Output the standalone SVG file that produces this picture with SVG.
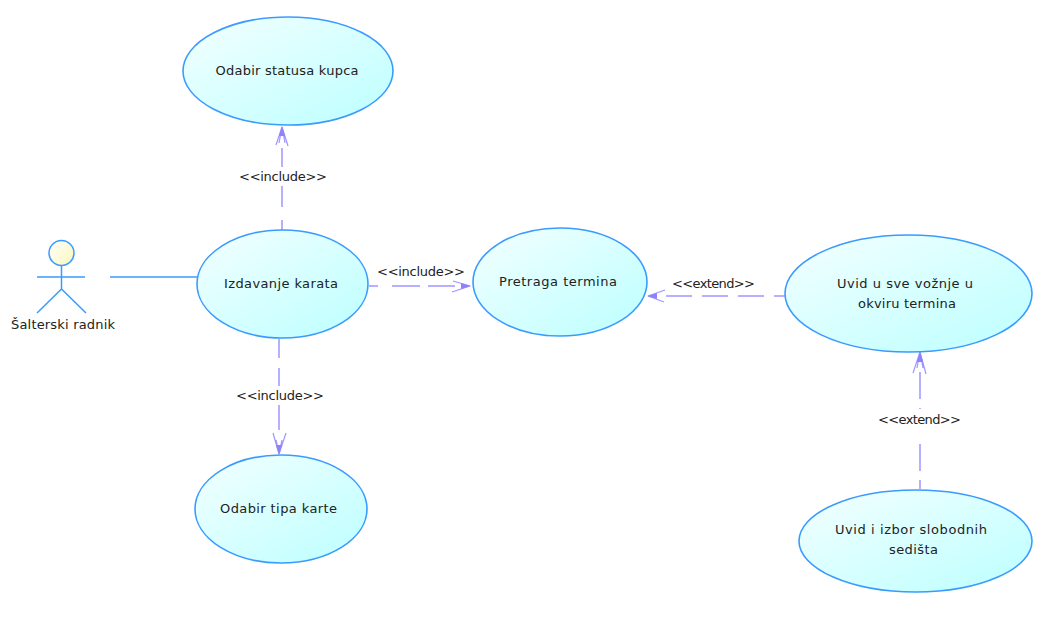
<svg xmlns="http://www.w3.org/2000/svg" width="1046" height="629" viewBox="0 0 1046 629">
<style>
.uc{stroke:#3a9bff;stroke-width:1.6;fill:url(#g)}
.t{font-family:"DejaVu Sans",sans-serif;font-size:13px;fill:#222;text-anchor:middle}
.dep{stroke:#a095ff;stroke-width:1.5;fill:none}
.head{stroke:#a095ff;stroke-width:1.2;fill:none}
.wedge{fill:#8f80ff;stroke:none}
.act{stroke:#3a9bff;stroke-width:1.5;fill:none}
</style>
<defs>
<linearGradient id="g" x1="0" y1="0" x2="1" y2="1"><stop offset="0" stop-color="#f4ffff"/><stop offset="1" stop-color="#bcffff"/></linearGradient>
<linearGradient id="y" x1="0" y1="0" x2="1" y2="1"><stop offset="0" stop-color="#ffffff"/><stop offset="1" stop-color="#fbf8b8"/></linearGradient>
</defs>
<rect width="1046" height="629" fill="#fff"/>
<g id="connectors">
<path class="act" d="M110 277H198"/>
<path class="dep" d="M282 230V220M282 207V186M282 167V148"/>
<path class="dep" d="M369 286H378M392 286H420M428 286H455"/>
<path class="dep" d="M279 339V358M279 368V386M279 405V430"/>
<path class="dep" d="M785 296H774M764 296H738M728 296H702M692 296H666"/>
<path class="dep" d="M920 489V480M920 471V444M920 409V408M920 399V372"/>
<path class="head" d="M282 127L276 145M282 127L288 146M282 127L279 143M282 127L285 143"/>
<path class="wedge" d="M282 126L285 136H279Z"/>
<path class="head" d="M470 286L453 281M470 286L452 292"/>
<path class="wedge" d="M471 286L461 283V289Z"/>
<path class="head" d="M279 454L273 433M279 454L286 433M279 454L276 440M279 454L282 440"/>
<path class="wedge" d="M279 455L282 445H276Z"/>
<path class="head" d="M648 296L665 290M648 296L664 302"/>
<path class="wedge" d="M647 296L657 293V299Z"/>
<path class="head" d="M920 352L913 373M920 352L926 374M920 352L917 368M920 352L923 368"/>
<path class="wedge" d="M920 351L923 362H917Z"/>
</g>
<g id="actor">
<circle cx="61.5" cy="253" r="12.5" class="act" style="fill:url(#y)"/>
<path class="act" d="M61.5 265.500V289M37 277H85M61.500 289L37 313M61.500 289L86 313"/>
<text class="t" x="63" y="329" textLength="104">Šalterski radnik</text>
</g>
<g id="uc1"><ellipse class="uc" cx="288" cy="71" rx="105" ry="54"/><text class="t" x="287" y="75" textLength="143">Odabir statusa kupca</text></g>
<g id="uc2"><ellipse class="uc" cx="282.500" cy="284" rx="85.500" ry="54"/><text class="t" x="281" y="288" textLength="114">Izdavanje karata</text></g>
<g id="uc3"><ellipse class="uc" cx="560" cy="282" rx="87" ry="54"/><text class="t" x="558" y="286" textLength="118">Pretraga termina</text></g>
<g id="uc4"><ellipse class="uc" cx="908.500" cy="293.500" rx="123.500" ry="58.500"/><text class="t" x="905" y="288" textLength="136">Uvid u sve vožnje u</text><text class="t" x="907" y="308" textLength="98">okviru termina</text></g>
<g id="uc5"><ellipse class="uc" cx="281" cy="509" rx="86" ry="54"/><text class="t" x="278.500" y="513" textLength="117">Odabir tipa karte</text></g>
<g id="uc6"><ellipse class="uc" cx="915.500" cy="541" rx="116.500" ry="51"/><text class="t" x="911" y="534" textLength="152">Uvid i izbor slobodnih</text><text class="t" x="913.500" y="554" textLength="49">sedišta</text></g>
<g id="labels">
<text class="t" x="283" y="181" textLength="88">&lt;&lt;include&gt;&gt;</text>
<text class="t" x="421" y="276" textLength="88">&lt;&lt;include&gt;&gt;</text>
<text class="t" x="280" y="400" textLength="88">&lt;&lt;include&gt;&gt;</text>
<text class="t" x="713.500" y="288" textLength="83">&lt;&lt;extend&gt;&gt;</text>
<text class="t" x="919.500" y="424" textLength="83">&lt;&lt;extend&gt;&gt;</text>
</g>
</svg>
